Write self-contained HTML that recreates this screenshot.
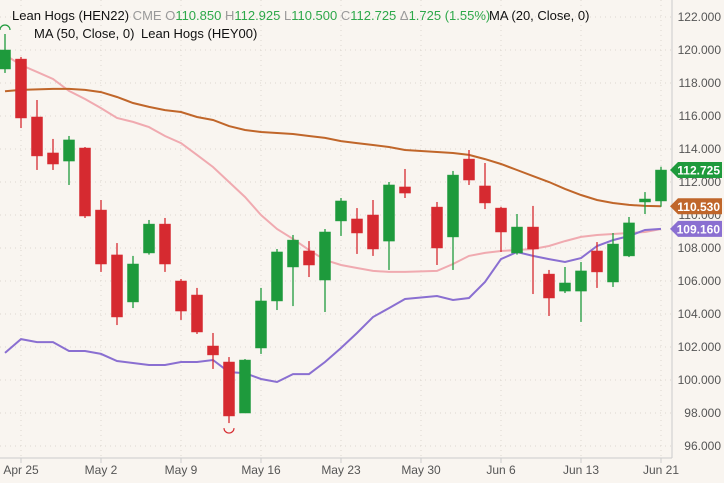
<!DOCTYPE html>
<html><head><meta charset="utf-8"><style>
body{margin:0;background:#f9f5f0;font-family:"Liberation Sans",sans-serif;}
svg{display:block}
</style></head><body>
<svg id="chart" width="724" height="483" xmlns="http://www.w3.org/2000/svg">
<rect width="724" height="483" fill="#f9f5f0"/>
<g id="grid"></g><g id="lines"></g><g id="candles"></g><g id="axes"></g>
<g font-size="13">
<text x="12" y="20"><tspan fill="#111">Lean Hogs (HEN22)</tspan><tspan fill="#999"> CME </tspan><tspan fill="#999">O</tspan><tspan fill="#2ea84a">110.850 </tspan><tspan fill="#999">H</tspan><tspan fill="#2ea84a">112.925 </tspan><tspan fill="#999">L</tspan><tspan fill="#2ea84a">110.500 </tspan><tspan fill="#999">C</tspan><tspan fill="#2ea84a">112.725 </tspan><tspan fill="#999">Δ</tspan><tspan fill="#2ea84a">1.725 (1.55%)</tspan></text>
<text x="489" y="20" fill="#111">MA (20, Close, 0)</text>
<text x="34" y="38" fill="#111">MA (50, Close, 0)</text>
<text x="141" y="38" fill="#111">Lean Hogs (HEY00)</text>
</g>
</svg>
<script>
const dates=["Apr 22","Apr 25","Apr 26","Apr 27","Apr 28","Apr 29","May 2","May 3","May 4","May 5","May 6","May 9","May 10","May 11","May 12","May 13","May 16","May 17","May 18","May 19","May 20","May 23","May 24","May 25","May 26","May 27","May 30","May 31","Jun 1","Jun 2","Jun 3","Jun 6","Jun 7","Jun 8","Jun 9","Jun 10","Jun 13","Jun 14","Jun 15","Jun 16","Jun 17","Jun 21"];
const opens=[118.85,119.45,115.94,113.76,113.27,114.06,110.3,107.58,104.73,107.7,109.45,106.0,105.15,102.06,101.09,98.0,101.94,104.79,106.85,107.82,106.06,109.64,109.76,110.0,108.42,111.7,null,110.48,108.67,113.39,111.76,110.42,107.7,109.27,106.42,105.39,105.39,107.82,105.94,107.52,110.79,110.85];
const highs=[120.97,119.58,116.97,114.61,114.79,114.12,110.91,108.3,107.52,109.7,109.82,106.12,105.58,102.85,101.39,101.27,105.58,107.94,108.79,108.42,109.15,111.03,110.42,110.91,112.0,112.79,null,110.79,112.67,113.94,113.15,110.5,110.06,110.55,106.67,106.85,107.15,108.36,108.91,109.88,111.39,112.925];
const lows=[118.61,115.27,112.73,112.73,111.82,109.82,106.55,103.33,104.36,107.6,106.55,103.64,102.79,100.67,97.39,98.0,101.58,104.24,104.48,106.24,104.12,108.73,107.64,107.52,106.67,111.03,null,106.97,106.67,111.82,110.36,107.76,107.6,105.21,103.88,105.27,103.52,105.58,105.64,107.45,110.06,110.5];
const closes=[120.0,115.88,113.58,113.09,114.55,109.94,107.03,103.82,107.03,109.45,107.03,104.18,102.91,101.52,97.82,101.21,104.79,107.76,108.48,106.97,108.97,110.85,108.91,107.94,111.82,111.33,null,108.0,112.42,112.12,110.73,108.97,109.27,107.94,104.97,105.88,106.61,106.55,108.24,109.52,110.97,112.725];
const ma50=[117.5,117.58,117.61,117.64,117.64,117.58,117.45,117.15,116.79,116.55,116.36,116.24,115.94,115.76,115.39,115.15,115.03,114.97,114.91,114.79,114.67,114.48,114.36,114.24,114.12,113.94,null,113.82,113.76,113.64,113.39,113.09,112.73,112.36,112.0,111.58,111.21,110.91,110.73,110.61,110.55,110.53];
const ma20=[119.7,119.09,118.67,118.24,117.52,117.03,116.48,115.88,115.64,115.33,114.79,114.36,113.64,112.91,112.0,111.09,110.0,109.15,108.55,107.88,107.27,106.97,106.79,106.61,106.55,106.55,null,106.61,107.03,107.52,107.7,107.82,107.88,107.94,108.12,108.42,108.67,108.79,108.85,108.91,108.97,109.15];
const hey00=[101.64,102.48,102.3,102.3,101.76,101.76,101.58,101.15,101.03,100.91,100.91,101.09,101.09,101.21,100.48,100.42,100.06,99.88,100.36,100.36,101.09,101.94,102.85,103.82,104.36,104.91,null,105.09,104.85,104.97,105.94,107.33,107.76,107.52,107.33,107.15,107.39,108.12,108.48,108.73,109.09,109.16];
const yTicks=[96,98,100,102,104,106,108,110,112,114,116,118,120,122];
const xTickLabels=["Apr 25","May 2","May 9","May 16","May 23","May 30","Jun 6","Jun 13","Jun 21"];
const tags=[["112.725",112.725,"#1e9a3c"],["110.530",110.53,"#c0662a"],["109.160",109.16,"#8a6fd1"]];

const NS="http://www.w3.org/2000/svg";
const X=i=>5+16*i;
const Y=v=>446-(v-96)*16.5;
function mk(parent,tag,attrs){const e=document.createElementNS(NS,tag);for(const k in attrs)e.setAttribute(k,attrs[k]);document.getElementById(parent).appendChild(e);return e;}
// grid
yTicks.forEach(v=>{
 const l=mk('grid','line',{x1:0,x2:672,y1:Y(v),y2:Y(v),stroke:'#ddd8d0','stroke-dasharray':'1,4'});
 
 
 const t=mk('axes','text',{x:721,y:Y(v)+4,'text-anchor':'end','font-size':'12',fill:'#555'});
 t.textContent=v.toFixed(3);
 
 
});
xTickLabels.forEach(s=>{
 const i=dates.indexOf(s);
 const l=mk('grid','line',{x1:X(i),x2:X(i),y1:0,y2:458,stroke:'#ddd8d0','stroke-dasharray':'1,4'});
 
 
 const tk=mk('axes','line',{x1:X(i),x2:X(i),y1:458,y2:463,stroke:'#ccc'});
 
 
 const t=mk('axes','text',{x:X(i),y:474,'text-anchor':'middle','font-size':'12',fill:'#555'});
 t.textContent=s;
 
 
});
const ax=mk('axes','line',{x1:0,x2:672,y1:458,y2:458,stroke:'#ccc'});


const ay=mk('axes','line',{x1:672,x2:672,y1:0,y2:458,stroke:'#ccc'});


// lines
function path(arr){let d='';arr.forEach((v,i)=>{if(v==null)return;d+=(d?'L':'M')+X(i)+','+Y(v).toFixed(1);});return d;}
[[ma20,'#f0aab0','ma20-line'],[ma50,'#c0662a','ma50-line'],[hey00,'#8a6fd1','hey00-line']].forEach(([a,c,n])=>{
 const p=mk('lines','path',{d:path(a),fill:'none',stroke:c,'stroke-width':'2'});
 
 
});
// candles
dates.forEach((d,i)=>{
 if(opens[i]==null)return;
 const up=closes[i]>=opens[i];const c=up?'#1e9a3c':'#d62a30';
 const w=mk('candles','line',{x1:X(i),x2:X(i),y1:Y(highs[i]),y2:Y(lows[i]),stroke:c,'stroke-width':'1.3'});
 
 
 const top=Y(Math.max(opens[i],closes[i])),bot=Y(Math.min(opens[i],closes[i]));
 const r=mk('candles','rect',{x:X(i)-5.5,y:top,width:11,height:Math.max(1.5,bot-top),fill:c,stroke:c,'stroke-width':'0.5'});
 
 
});
// high/low markers
const hi=highs.indexOf(Math.max(...highs.filter(v=>v!=null)));
const lo=lows.indexOf(Math.min(...lows.filter(v=>v!=null)));
const mh=mk('candles','path',{d:`M${X(hi)-5},${Y(highs[hi])-4} a5,5 0 0 1 10,0`,fill:'none',stroke:'#1e9a3c','stroke-width':'1.2'});


const ml=mk('candles','path',{d:`M${X(lo)-5},${Y(lows[lo])+5} a5,5 0 0 0 10,0`,fill:'none',stroke:'#d62a30','stroke-width':'1.2'});


// price tags
tags.forEach(([s,v,c])=>{
 const y=Y(v);
 const p=mk('axes','path',{d:`M670,${y} L678,${y-8} L722,${y-8} L722,${y+8} L678,${y+8} Z`,fill:c});
 
 
 const t=mk('axes','text',{x:720,y:y+4.5,'text-anchor':'end','font-size':'12','font-weight':'bold',fill:'#fff'});
 t.textContent=s;
 
 
});
</script>
</body></html>
